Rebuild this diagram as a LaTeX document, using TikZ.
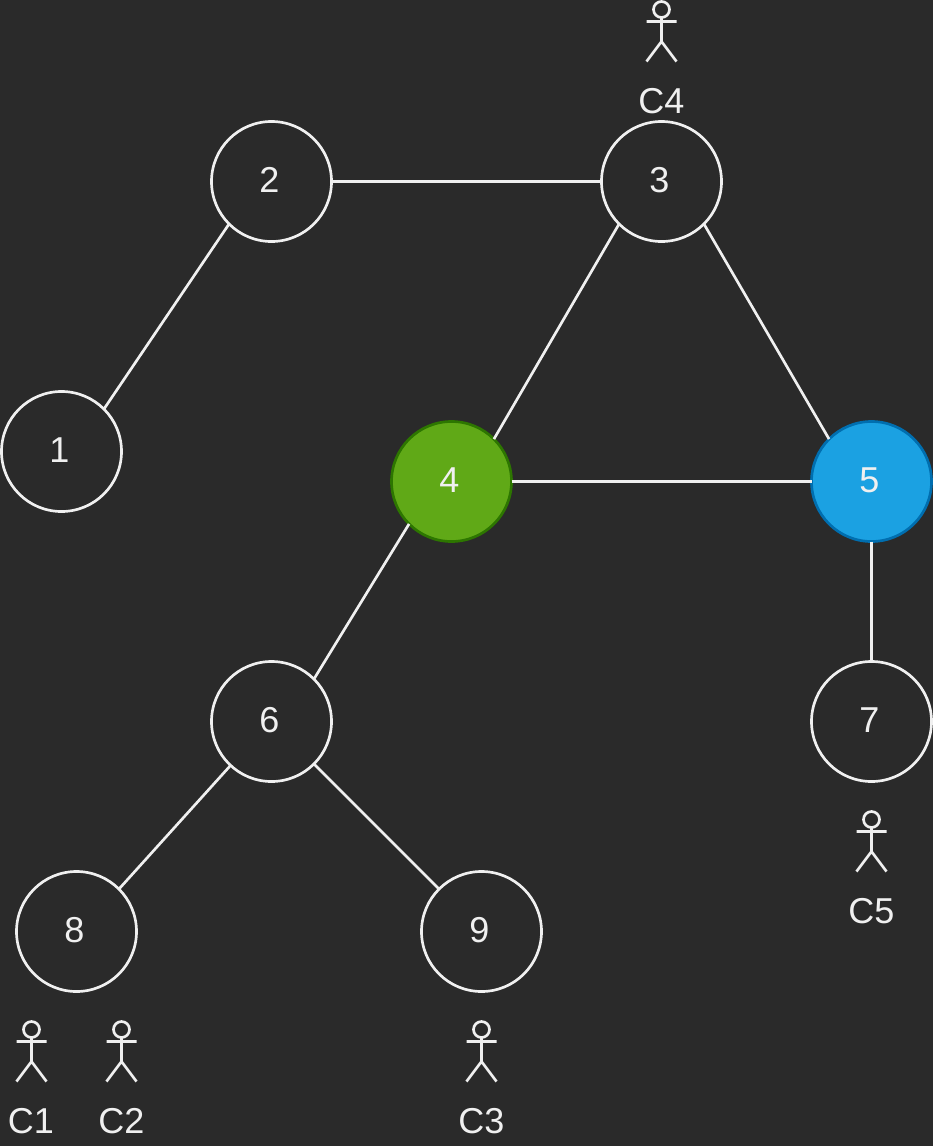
\documentclass[tikz,border=0pt]{standalone}
\usepackage{fontspec}
\setmainfont{Liberation Sans}
\definecolor{bgc}{HTML}{2A2A2A}
\definecolor{linec}{HTML}{F0F0F0}
\definecolor{greenf}{HTML}{60A917}
\definecolor{greens}{HTML}{2D7600}
\definecolor{bluef}{HTML}{1BA1E2}
\definecolor{blues}{HTML}{006EAF}
\tikzset{
  graphnode/.style={circle,draw=linec,line width=2pt,minimum size=90pt,inner sep=0pt,outer sep=0pt,text=linec,font=\fontsize{27}{27}\selectfont,text depth=0pt,align=center},
  greennode/.style={graphnode,fill=greenf,draw=greens},
  bluenode/.style={graphnode,fill=bluef,draw=blues},
  edge/.style={draw=linec,line width=2pt},
  actorline/.style={draw=linec,line width=2pt},
  actorlabel/.style={text=linec,font=\fontsize{27}{27}\selectfont,inner sep=0pt},
  actor/.pic={
    \draw[actorline] (0,-12) circle[radius=8];
    \draw[actorline] (0,-4) -- (0,20) (-15,0) -- (15,0) (-15,40) -- (0,20) -- (15,40);
  }
}
\begin{document}
\begin{tikzpicture}[x=0.75pt,y=-0.75pt]
\useasboundingbox[fill=bgc] (0,0) rectangle (933,1146);
\node[graphnode] (n1) at (61.5,451.5) {};
\node[graphnode] (n2) at (271.5,181.5) {};
\node[graphnode] (n3) at (661.5,181.5) {};
\node[greennode] (n4) at (451.5,481.5) {};
\node[bluenode] (n5) at (871.5,481.5) {};
\node[graphnode] (n6) at (271.5,721.5) {};
\node[graphnode] (n7) at (871.5,721.5) {};
\node[graphnode] (n8) at (76.5,931.5) {};
\node[graphnode] (n9) at (481.5,931.5) {};
\node[graphnode,draw=none,fill=none,anchor=center] (t1) at (59.5,450) {1};
\node[graphnode,draw=none,fill=none] (t2) at (269.5,180) {2};
\node[graphnode,draw=none,fill=none] (t3) at (659.5,180) {3};
\node[graphnode,draw=none,fill=none] (t4) at (449.5,480) {4};
\node[graphnode,draw=none,fill=none] (t5) at (869.5,480) {5};
\node[graphnode,draw=none,fill=none] (t6) at (269.5,720) {6};
\node[graphnode,draw=none,fill=none] (t7) at (869.5,720) {7};
\node[graphnode,draw=none,fill=none] (t8) at (74.5,930) {8};
\node[graphnode,draw=none,fill=none] (t9) at (479.5,930) {9};
\draw[edge] (n2.east) -- (n3.west);
\draw[edge] (n1.45) -- (n2.225);
\draw[edge] (n3.225) -- (n4.45);
\draw[edge] (n3.-45) -- (n5.135);
\draw[edge] (n4.east) -- (n5.west);
\draw[edge] (n4.225) -- (n6.45);
\draw[edge] (n5.south) -- (n7.north);
\draw[edge] (n6.227) -- (n8.45);
\draw[edge] (n6.-45) -- (n9.135);
\pic at (661.5,21.5) {actor};
\pic at (871.5,831.5) {actor};
\pic at (31.5,1041.5) {actor};
\pic at (121.5,1041.5) {actor};
\pic at (481.5,1041.5) {actor};
\node[actorlabel] (c4) at (661.5,101.5) {C4};
\node[actorlabel] (c5) at (871.5,911.5) {C5};
\node[actorlabel] (c1) at (31,1121.5) {C1};
\node[actorlabel] (c2) at (121.5,1121.5) {C2};
\node[actorlabel] (c3) at (481.5,1121.5) {C3};
\end{tikzpicture}
\end{document}
